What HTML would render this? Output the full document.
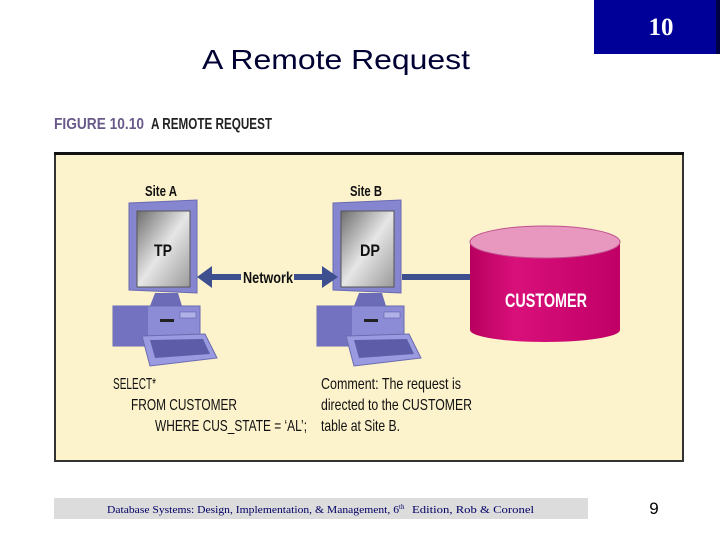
<!DOCTYPE html>
<html><head><meta charset="utf-8"><style>
body{margin:0;width:720px;height:540px;background:#fff;overflow:hidden;position:relative;font-family:"Liberation Sans",sans-serif}
</style></head><body>
<svg width="720" height="540" viewBox="0 0 720 540" style="position:absolute;left:0;top:0">
<defs>
<linearGradient id="scr" x1="0" y1="0" x2="1" y2="1"><stop offset="0" stop-color="#6e6e6e"/><stop offset="0.5" stop-color="#e6e6e6"/><stop offset="1" stop-color="#9a9a9a"/></linearGradient>
<linearGradient id="cyl" x1="0" y1="0" x2="1" y2="0"><stop offset="0" stop-color="#b8005f"/><stop offset="0.3" stop-color="#d9107a"/><stop offset="1" stop-color="#c00066"/></linearGradient>
<g id="pc">
<path d="M129,203 L197,200 L197,293 L129,290 Z" fill="#8585d0" stroke="#6a6ab0"/>
<rect x="137" y="211" width="53" height="76" fill="url(#scr)" stroke="#555" stroke-width="1"/>
<path d="M155,293 L178,293 L182,306 L150,306 Z" fill="#6b6bb8"/>
<path d="M113,306 L200,306 L200,346 L113,346 Z" fill="#8c8cd6" stroke="#6a6ab0"/>
<rect x="113" y="306" width="35" height="40" fill="#7272c0"/>
<rect x="160" y="319" width="14" height="3" fill="#222"/>
<rect x="180" y="312" width="16" height="6" fill="#b0b0e8" stroke="#5555a0" stroke-width="0.5"/>
<path d="M142,336 L205,334 L217,358 L150,366 Z" fill="#9a9ae0" stroke="#6a6ab0"/>
<path d="M150,340 L203,339 L210,354 L155,358 Z" fill="#5c5ca8"/>
</g>
</defs>
<text x="202" y="69" font-size="28" fill="#000033" textLength="268" lengthAdjust="spacingAndGlyphs">A Remote Request</text>
<rect x="594" y="0" width="122" height="54" fill="#000099"/>
<rect x="716" y="0" width="4" height="54" fill="#000044"/>
<text x="661" y="35" text-anchor="middle" font-family="Liberation Serif,serif" font-weight="bold" font-size="25" fill="#fff">10</text>
<text x="54" y="129" font-size="16" font-weight="bold" fill="#6a5a8a" textLength="90" lengthAdjust="spacingAndGlyphs">FIGURE 10.10</text>
<text x="151" y="129" font-size="16" font-weight="bold" fill="#222" textLength="121" lengthAdjust="spacingAndGlyphs">A REMOTE REQUEST</text>
<rect x="55" y="154" width="628" height="307" fill="#fcf2cc" stroke="#333" stroke-width="2"/>
<rect x="54" y="152" width="630" height="3" fill="#111"/>
<use href="#pc"/>
<use href="#pc" transform="translate(204,0)"/>
<text x="161" y="196" text-anchor="middle" font-size="15" fill="#111" font-weight="bold" textLength="32" lengthAdjust="spacingAndGlyphs">Site A</text>
<text x="366" y="196" text-anchor="middle" font-size="15" fill="#111" font-weight="bold" textLength="32" lengthAdjust="spacingAndGlyphs">Site B</text>
<text x="163" y="256" text-anchor="middle" font-size="17" font-weight="bold" fill="#111" textLength="18" lengthAdjust="spacingAndGlyphs">TP</text>
<text x="370" y="256" text-anchor="middle" font-size="17" font-weight="bold" fill="#111" textLength="20" lengthAdjust="spacingAndGlyphs">DP</text>
<rect x="208" y="274" width="33" height="6" fill="#3d4f8f"/>
<path d="M197,277 L212,266 L212,288 Z" fill="#3d4f8f"/>
<rect x="294" y="274" width="30" height="6" fill="#3d4f8f"/>
<path d="M338,277 L322,266 L322,288 Z" fill="#3d4f8f"/>
<text x="268" y="283" text-anchor="middle" font-size="16" font-weight="bold" fill="#111" textLength="50" lengthAdjust="spacingAndGlyphs">Network</text>
<rect x="402" y="274" width="70" height="6" fill="#3d4f8f"/>
<path d="M470,242 L470,330 A75,12 0 0 0 620,330 L620,242 Z" fill="url(#cyl)"/>
<ellipse cx="545" cy="242" rx="75" ry="16" fill="#e898be" stroke="#c05090"/>
<text x="546" y="307" text-anchor="middle" font-size="19" font-weight="bold" fill="#fff" textLength="82" lengthAdjust="spacingAndGlyphs">CUSTOMER</text>
<g font-size="16" fill="#111">
<text x="113" y="389" textLength="43" lengthAdjust="spacingAndGlyphs">SELECT*</text>
<text x="131" y="410" textLength="106" lengthAdjust="spacingAndGlyphs">FROM CUSTOMER</text>
<text x="155" y="431" textLength="152" lengthAdjust="spacingAndGlyphs">WHERE CUS_STATE = ‘AL’;</text>
<text x="321" y="389" textLength="140" lengthAdjust="spacingAndGlyphs">Comment: The request is</text>
<text x="321" y="410" textLength="151" lengthAdjust="spacingAndGlyphs">directed to the CUSTOMER</text>
<text x="321" y="431" textLength="79" lengthAdjust="spacingAndGlyphs">table at Site B.</text>
</g>
<rect x="54" y="498" width="534" height="21" fill="#dcdcdc"/>
<text x="107" y="513" font-family="Liberation Serif,serif" font-size="11" fill="#000066" textLength="292" lengthAdjust="spacingAndGlyphs">Database Systems: Design, Implementation, &amp; Management, 6</text>
<text x="399" y="509" font-family="Liberation Serif,serif" font-size="7" fill="#000066">th</text>
<text x="412" y="513" font-family="Liberation Serif,serif" font-size="11" fill="#000066" textLength="122" lengthAdjust="spacingAndGlyphs">Edition, Rob &amp; Coronel</text>
<text x="654" y="514" text-anchor="middle" font-size="17" fill="#000">9</text>
</svg>
</body></html>
